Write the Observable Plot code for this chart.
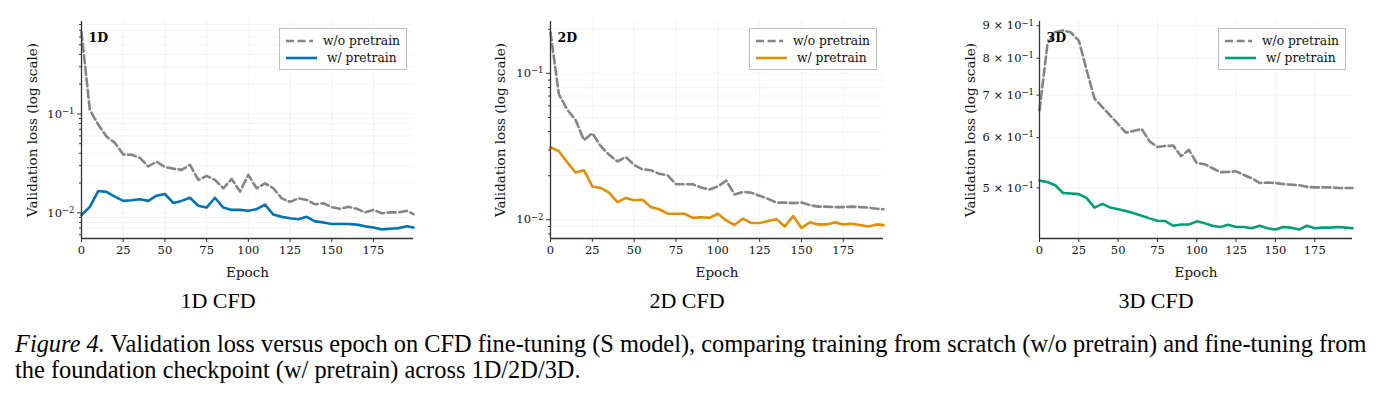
<!DOCTYPE html>
<html>
<head>
<meta charset="utf-8">
<script src="https://cdn.jsdelivr.net/npm/d3@7"></script>
<script src="https://cdn.jsdelivr.net/npm/@observablehq/plot@0.6"></script>
<style>
  html, body { margin: 0; padding: 0; background: #fff; }
  #root { position: relative; width: 1381px; height: 394px; overflow: hidden; background: #fff; }
  .panel { position: absolute; top: 0; }
  .panel svg, .panel svg text { font-family: "DejaVu Serif" !important; }
  .legend { position: absolute; box-sizing: border-box; border: 1px solid #bdbdbd; background: rgba(255,255,255,0.85);
            font-family: "DejaVu Serif"; font-size: 12.3px; color: #111; padding: 3px 6px 2px 4px; }
  .legend .row { display: flex; align-items: center; height: 17px; white-space: nowrap; }
  .legend svg { margin-right: 10px; margin-left: 2px; }
  .sub { position: absolute; top: 288px; font-family: "Liberation Serif", "Times New Roman", serif; font-size: 22px; color: #000;
         transform: translateX(-50%); white-space: nowrap; }
  .caption { position: absolute; left: 15px; top: 331px; font-family: "Liberation Serif", "Times New Roman", serif; font-size: 24.4px;
             line-height: 26px; color: #000; white-space: nowrap; }
</style>
</head>
<body>
<div id="root"></div>
<script>
// ---------- data ----------
const epochs = [0,5,10,15,20,25,30,35,40,45,50,55,60,65,70,75,80,85,90,95,100,105,110,115,120,125,130,135,140,145,150,155,160,165,170,175,180,185,190,195,199];

const oneD_wo = [0.67,0.11,0.078,0.059,0.051,0.039,0.0386,0.036,0.0294,0.033,0.029,0.028,0.0272,0.0305,0.0215,0.0236,0.0215,0.0177,0.022,0.0164,0.0242,0.0177,0.0199,0.0177,0.014,0.0129,0.014,0.0135,0.0122,0.0125,0.0114,0.011,0.0115,0.011,0.0101,0.0107,0.0099,0.0101,0.0101,0.0105,0.0097];
const oneD_w = [0.0095,0.0115,0.0166,0.0163,0.0146,0.0132,0.0134,0.0137,0.0132,0.0149,0.0155,0.0126,0.0132,0.0142,0.0118,0.0113,0.0142,0.0113,0.0107,0.0107,0.0105,0.0109,0.0121,0.0096,0.0091,0.0088,0.0086,0.0091,0.0082,0.008,0.0077,0.0077,0.0077,0.0076,0.0073,0.0071,0.0068,0.0069,0.007,0.0073,0.0071];

const twoD_wo = [0.19,0.072,0.0565,0.048,0.035,0.039,0.0319,0.0278,0.025,0.0268,0.0237,0.0221,0.0218,0.0206,0.0201,0.0175,0.0175,0.0175,0.0166,0.0161,0.0169,0.0185,0.0149,0.0155,0.0153,0.0146,0.0139,0.0131,0.0131,0.013,0.0131,0.0126,0.0123,0.0123,0.0122,0.0122,0.0123,0.0122,0.0121,0.0119,0.0118];
const twoD_w = [0.0313,0.0294,0.0247,0.021,0.0218,0.0169,0.0165,0.0153,0.0132,0.0141,0.0136,0.0137,0.0122,0.0118,0.011,0.011,0.011,0.0103,0.0104,0.0103,0.011,0.0099,0.0092,0.0102,0.0095,0.0095,0.0098,0.0101,0.009,0.0106,0.0088,0.0096,0.0093,0.0093,0.0096,0.0093,0.0094,0.0092,0.009,0.0093,0.0092];

const threeD_wo = [0.662,0.84,0.88,0.885,0.878,0.853,0.766,0.691,0.670,0.650,0.630,0.611,0.615,0.619,0.592,0.580,0.582,0.583,0.561,0.574,0.547,0.545,0.537,0.5295,0.530,0.531,0.524,0.5176,0.509,0.510,0.509,0.507,0.506,0.505,0.502,0.501,0.501,0.501,0.500,0.500,0.500];
const threeD_w = [0.5135,0.511,0.505,0.491,0.49,0.489,0.482,0.4657,0.472,0.4657,0.463,0.460,0.456,0.452,0.4478,0.444,0.4435,0.436,0.438,0.438,0.443,0.440,0.436,0.434,0.4375,0.434,0.434,0.432,0.436,0.432,0.430,0.434,0.433,0.430,0.436,0.432,0.433,0.433,0.434,0.433,0.432];

const xTicks = [0,25,50,75,100,125,150,175];
const seriesNames = ["w/o pretrain", "w/ pretrain"];
const panelTitles = ["1D", "2D", "3D"];
const subTitles = ["1D CFD", "2D CFD", "3D CFD"];
const colors = ["#0173B2", "#DE8F05", "#029E73"];
const woColor = "#858585";

// tick labels as [base, exponent]
const yMajor1 = [0.01, 0.1], yMajorLabels1 = [["10", "−2"], ["10", "−1"]];
const yMinor1 = [0.006,0.007,0.008,0.009,0.02,0.03,0.04,0.05,0.06,0.07,0.08,0.09,0.2,0.3,0.4,0.5,0.6,0.7,0.8];
const yMajor2 = [0.01, 0.1], yMajorLabels2 = [["10", "−2"], ["10", "−1"]];
const yMinor2 = [0.008,0.009,0.02,0.03,0.04,0.05,0.06,0.07,0.08,0.09,0.2];
const yMajor3 = [0.5,0.6,0.7,0.8,0.9], yMajorLabels3 = [["5 × 10","−1"],["6 × 10","−1"],["7 × 10","−1"],["8 × 10","−1"],["9 × 10","−1"]];
const yMinor3 = [];

const captionLine1 = "Validation loss versus epoch on CFD fine-tuning (S model), comparing training from scratch (w/o pretrain) and fine-tuning from";
const captionLine2 = "the foundation checkpoint (w/ pretrain) across 1D/2D/3D.";

// ---------- layout ----------
const H = 285, MT = 21, MB = 47;
const panels = [
  {left: 0,   width: 460, ml: 81,  mr: 47, domain: [0.0055, 0.86],  wo: oneD_wo,   w: oneD_w,   majors: yMajor1, labels: yMajorLabels1, minors: yMinor1, yLabelOffset: 54, sub: 218},
  {left: 460, width: 460, ml: 90,  mr: 37, domain: [0.00745, 0.226], wo: twoD_wo,  w: twoD_w,   majors: yMajor2, labels: yMajorLabels2, minors: yMinor2, yLabelOffset: 55, sub: 687},
  {left: 920, width: 461, ml: 119, mr: 29, domain: [0.4163, 0.914],  wo: threeD_wo, w: threeD_w, majors: yMajor3, labels: yMajorLabels3, minors: yMinor3, yLabelOffset: 74, sub: 1156}
];

const root = document.getElementById("root");

panels.forEach((p, i) => {
  const data = epochs.map((e, k) => ({epoch: e, wo: p.wo[k], w: p.w[k]}));
  const fmt = d => { const l = p.labels[p.majors.indexOf(d)]; return l ? l[0] + "^" + l[1] : ""; };
  const allY = p.majors.concat(p.minors);
  const chart = Plot.plot({
    width: p.width, height: H,
    marginLeft: p.ml, marginRight: p.mr, marginTop: MT, marginBottom: MB,
    style: {fontFamily: "DejaVu Serif", fontSize: "11px", color: "#111", background: "transparent", overflow: "visible"},
    x: {domain: [0, 199]},
    y: {type: "log", domain: p.domain},
    marks: [
      Plot.gridX(xTicks, {stroke: "#efefef", strokeOpacity: 1, strokeWidth: 0.8}),
      Plot.gridY(allY, {stroke: "#f2f2f2", strokeOpacity: 1, strokeWidth: 0.8}),
      Plot.line(data, {x: "epoch", y: "wo", stroke: woColor, strokeWidth: 2.6, strokeDasharray: "8,3.6"}),
      Plot.line(data, {x: "epoch", y: "w", stroke: colors[i], strokeWidth: 2.6}),
      Plot.axisX({ticks: xTicks, tickSize: 4, tickPadding: 3, fontSize: 11.5, label: "Epoch", labelAnchor: "center", labelArrow: "none", labelOffset: 38, stroke: "#333"}),
      Plot.axisY({ticks: p.majors, tickFormat: fmt, tickSize: i === 2 ? 2.5 : 4, tickPadding: 3, fontSize: 11.5,
                  label: "Validation loss (log scale)", labelAnchor: "center", labelArrow: "none", labelOffset: p.yLabelOffset, stroke: "#333"}),
      p.minors.length ? Plot.axisY({ticks: p.minors, tickFormat: () => "", tickSize: 2, label: null, stroke: "#333"}) : null,
      Plot.ruleX([0], {stroke: "#333", strokeWidth: 1.3}),
      Plot.ruleY([p.domain[0]], {stroke: "#333", strokeWidth: 1.3}),
      Plot.text([panelTitles[i]], {frameAnchor: "top-left", dx: 7, dy: 12, fontWeight: "bold", fontSize: 12.5, fill: "#000"})
    ]
  });
  chart.querySelectorAll("g[aria-label='x-axis label'] text, g[aria-label='y-axis label'] text").forEach(t => t.setAttribute("font-size", 13.5));
  // turn "base^exp" into base with a raised exponent
  chart.querySelectorAll("g[aria-label='y-axis tick label'] text").forEach(t => {
    const s = t.textContent;
    if (!s.includes("^")) return;
    const [base, exp] = s.split("^");
    t.textContent = base;
    const ts = document.createElementNS("http://www.w3.org/2000/svg", "tspan");
    ts.setAttribute("dy", "-0.45em");
    ts.setAttribute("font-size", "8.5");
    ts.textContent = exp;
    t.appendChild(ts);
  });
  const div = document.createElement("div");
  div.className = "panel";
  div.style.left = p.left + "px";
  div.appendChild(chart);
  root.appendChild(div);

  // legend
  const frameRight = p.left + p.width - p.mr;
  const lg = document.createElement("div");
  lg.className = "legend";
  lg.style.left = (frameRight - 6 - 128) + "px";
  lg.style.top = "28px";
  lg.style.width = "128px";
  lg.style.height = "42px";
  seriesNames.forEach((name, j) => {
    const row = document.createElement("div");
    row.className = "row";
    const dash = j === 0 ? 'stroke-dasharray="8,3.6"' : "";
    const col = j === 0 ? woColor : colors[i];
    row.innerHTML = `<svg width="31" height="6"><line x1="0" y1="3" x2="31" y2="3" stroke="${col}" stroke-width="2.6" ${dash}/></svg><span>${name}</span>`;
    lg.appendChild(row);
  });
  root.appendChild(lg);

  const st = document.createElement("div");
  st.className = "sub";
  st.style.left = p.sub + "px";
  st.textContent = subTitles[i];
  root.appendChild(st);
});

const cap = document.createElement("div");
cap.className = "caption";
cap.innerHTML = `<i>Figure 4.</i> ${captionLine1}<br>${captionLine2}`;
root.appendChild(cap);
</script>
</body>
</html>
